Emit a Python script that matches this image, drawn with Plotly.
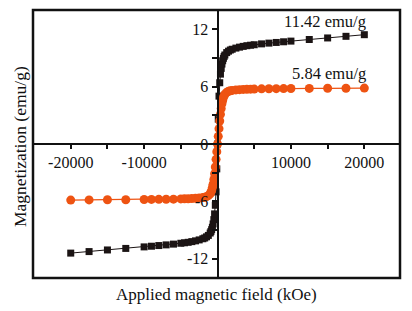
import plotly.graph_objects as go

# Applied field (Oe)
field = [-20000, -17500, -15000, -12500, -10000, -9000, -8000, -7000, -6000, -5000,
         -4500, -4000, -3500, -3000, -2500, -2000, -1750, -1500, -1250, -1000,
         -900, -800, -700, -600, -500, -400, -300, -200, -100, 0,
         100, 200, 300, 400, 500, 600, 700, 800, 900, 1000,
         1250, 1500, 1750, 2000, 2500, 3000, 3500, 4000, 4500, 5000,
         6000, 7000, 8000, 9000, 10000, 12500, 15000, 17500, 20000]

# Sample 1 (black squares), emu/g
mag_black = [-11.40, -11.24, -11.07, -10.91, -10.75, -10.68, -10.61, -10.54, -10.46, -10.37,
             -10.32, -10.27, -10.20, -10.12, -10.02, -9.90, -9.82, -9.70, -9.55, -9.30,
             -9.15, -8.95, -8.70, -8.35, -7.90, -7.30, -6.40, -5.00, -2.60, 0.00,
             2.60, 5.00, 6.40, 7.30, 7.90, 8.35, 8.70, 8.95, 9.15, 9.30,
             9.55, 9.70, 9.82, 9.90, 10.02, 10.12, 10.20, 10.27, 10.32, 10.37,
             10.46, 10.54, 10.61, 10.68, 10.75, 10.92, 11.08, 11.25, 11.42]

# Sample 2 (orange circles), emu/g
mag_orange = [-5.86, -5.84, -5.83, -5.82, -5.80, -5.79, -5.78, -5.77, -5.76, -5.74,
              -5.73, -5.72, -5.70, -5.68, -5.65, -5.60, -5.56, -5.50, -5.40, -5.20,
              -5.05, -4.85, -4.55, -4.20, -3.70, -3.10, -2.40, -1.60, -0.80, 0.00,
              0.80, 1.60, 2.40, 3.10, 3.70, 4.20, 4.55, 4.85, 5.05, 5.20,
              5.40, 5.50, 5.56, 5.60, 5.65, 5.68, 5.70, 5.72, 5.73, 5.74,
              5.76, 5.77, 5.78, 5.79, 5.80, 5.81, 5.82, 5.83, 5.84]

x_tickvals = [-20000, -15000, -10000, -5000, 5000, 10000, 15000, 20000]
x_ticktext = ["-20000", "", "-10000", "", "", "10000", "", "20000"]
y_tickvals = [-12, -9, -6, -3, 0, 3, 6, 9, 12]
y_ticktext = ["-12", "", "-6", "", "0", "", "6", "", "12"]

x_range = [-25140, 24860]
y_range = [-14, 14]

FONT = "Liberation Serif, Times New Roman, serif"
BLACK = "#1b1414"
ORANGE = "#ee5312"

fig = go.Figure()
fig.add_trace(go.Scatter(
    x=field, y=mag_black, mode="lines+markers",
    line=dict(color=BLACK, width=1),
    marker=dict(symbol="square", size=7, color=BLACK),
    showlegend=False))
fig.add_trace(go.Scatter(
    x=field, y=mag_orange, mode="lines+markers",
    line=dict(color=ORANGE, width=1.2),
    marker=dict(symbol="circle", size=9, color=ORANGE),
    showlegend=False))

fig.add_annotation(x=20500, y=12.8, text="11.42 emu/g", showarrow=False,
                   xanchor="right", yanchor="middle",
                   font=dict(family=FONT, size=16.5, color="#111"))
fig.add_annotation(x=20500, y=7.35, text="5.84 emu/g", showarrow=False,
                   xanchor="right", yanchor="middle",
                   font=dict(family=FONT, size=16.5, color="#111"))

# axis titles
fig.add_annotation(xref="paper", yref="paper", x=0.5, y=-0.063,
                   text="Applied magnetic field (kOe)", showarrow=False,
                   xanchor="center", yanchor="middle",
                   font=dict(family=FONT, size=17, color="#111"))
fig.add_annotation(xref="paper", yref="paper", x=-0.037, y=0.49,
                   text="Magnetization (emu/g)", showarrow=False, textangle=-90,
                   xanchor="center", yanchor="middle",
                   font=dict(family=FONT, size=17.5, color="#111"))

# frame
fig.add_shape(type="rect", xref="paper", yref="paper", x0=0, y0=0, x1=1, y1=1,
              line=dict(color="#111", width=2.5), layer="above")

y_pos = (0 - y_range[0]) / (y_range[1] - y_range[0])
x_pos = (0 - x_range[0]) / (x_range[1] - x_range[0])

fig.update_layout(
    width=412, height=311,
    margin=dict(l=33, r=12, t=10, b=33),
    paper_bgcolor="white", plot_bgcolor="white",
    font=dict(family=FONT, size=16, color="#111"),
    xaxis=dict(range=x_range, anchor="free", position=y_pos,
               showgrid=False, zeroline=False,
               showline=True, linecolor="#111", linewidth=2,
               ticks="outside", ticklen=4, tickwidth=1.5, tickcolor="#111",
               tickvals=x_tickvals, ticktext=x_ticktext,
               tickfont=dict(family=FONT, size=16, color="#111")),
    yaxis=dict(range=y_range, anchor="free", position=x_pos,
               showgrid=False, zeroline=False,
               showline=True, linecolor="#111", linewidth=2,
               ticks="outside", ticklen=5, tickwidth=1.5, tickcolor="#111",
               tickvals=y_tickvals, ticktext=y_ticktext,
               tickfont=dict(family=FONT, size=16, color="#111")),
)

fig.write_html("out.html", config={"displayModeBar": False},
               post_script="document.body.style.margin='0';document.body.style.overflow='hidden';")
